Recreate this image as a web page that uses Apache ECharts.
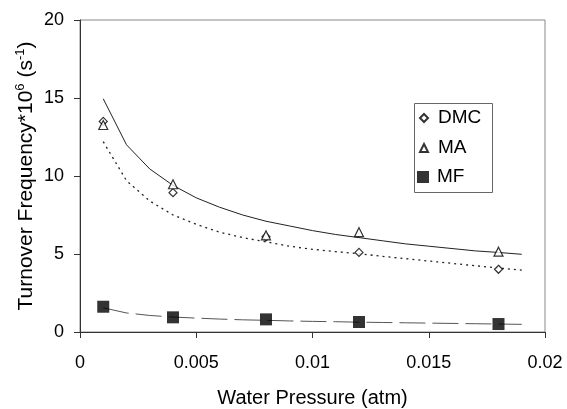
<!DOCTYPE html>
<html>
<head>
<meta charset="utf-8">
<script src="https://cdn.jsdelivr.net/npm/echarts@6/dist/echarts.min.js"></script>
<style>
html,body{margin:0;padding:0;background:#fff;}
#c{width:567px;height:409px;}
</style>
</head>
<body>
<div id="c"></div>
<script>
// Measured points
var pressures = [0.001, 0.004, 0.008, 0.012, 0.018];
var dmc = [13.5, 8.93, 6.1, 5.1, 4.02];
var ma = [13.27, 9.47, 6.2, 6.4, 5.15];
var mf = [1.62, 0.94, 0.81, 0.64, 0.51];

// Fitted trend curves
var fitX = [0.001, 0.002, 0.003, 0.004, 0.005, 0.006, 0.007, 0.008, 0.009, 0.010, 0.011, 0.012, 0.013, 0.014, 0.015, 0.016, 0.017, 0.018, 0.019];
var fitMA = [14.95, 12.0, 10.45, 9.4, 8.6, 8.0, 7.5, 7.1, 6.8, 6.5, 6.25, 6.05, 5.85, 5.65, 5.5, 5.35, 5.2, 5.1, 4.98];
var fitDMC = [12.2, 9.7, 8.4, 7.5, 6.9, 6.4, 6.05, 5.78, 5.5, 5.3, 5.15, 5.02, 4.85, 4.7, 4.55, 4.4, 4.25, 4.1, 3.97];
var fitMF = [1.55, 1.22, 1.06, 0.96, 0.89, 0.83, 0.78, 0.75, 0.71, 0.68, 0.66, 0.63, 0.61, 0.59, 0.57, 0.55, 0.53, 0.51, 0.49];

var xTicks = ['0', '0.005', '0.01', '0.015', '0.02'];

function pairs(xs, ys) { return xs.map(function (x, i) { return [x, ys[i]]; }); }

var FONT = 'Liberation Sans, Arial, sans-serif';
var chart = echarts.init(document.getElementById('c'), null, {renderer: 'canvas'});
chart.setOption({
  animation: false,
  backgroundColor: '#fff',
  textStyle: {fontFamily: FONT, color: '#000'},
  grid: {left: 80, right: 22, top: 20, bottom: 77, show: true, borderColor: '#888', borderWidth: 1,
    backgroundColor: 'transparent', containLabel: false, outerBoundsMode: 'none'},
  xAxis: {
    type: 'value', min: 0, max: 0.02, interval: 0.005,
    name: 'Water Pressure (atm)', nameLocation: 'middle', nameGap: 56, nameMoveOverlap: false,
    nameTextStyle: {fontSize: 20, color: '#000', fontFamily: FONT},
    axisLine: {show: true, lineStyle: {color: '#333', width: 1}},
    axisTick: {show: true, inside: false, length: 6, lineStyle: {color: '#333'}},
    axisLabel: {fontSize: 18, color: '#000', margin: 22, fontFamily: FONT,
      formatter: function (v) { var i = Math.round(v / 0.005); return xTicks[i]; }},
    splitLine: {show: false}
  },
  yAxis: {
    type: 'value', min: 0, max: 20, interval: 5,
    name: '{a|Turnover Frequency*10}{s|6}{a| (s}{s|-1}{a|)}',
    nameLocation: 'middle', nameGap: 42, nameRotate: 90, nameMoveOverlap: false,
    nameTextStyle: {
      fontFamily: FONT, color: '#000',
      rich: {
        a: {fontSize: 21, fontFamily: FONT, color: '#000', lineHeight: 24},
        s: {fontSize: 13, fontFamily: FONT, color: '#000', lineHeight: 13, verticalAlign: 'top'}
      }
    },
    axisLine: {show: true, lineStyle: {color: '#333', width: 1}},
    axisTick: {show: true, inside: false, length: 6, lineStyle: {color: '#333'}},
    axisLabel: {fontSize: 18, color: '#000', margin: 16, fontFamily: FONT},
    splitLine: {show: false}
  },
  legend: [
    {
      orient: 'vertical', left: 419, top: 108, padding: 0, itemGap: 10,
      itemWidth: 8, itemHeight: 8,
      textStyle: {fontSize: 19, fontFamily: FONT, color: '#000', lineHeight: 20, padding: [0, 0, 0, 5]},
      data: [{name: 'DMC', icon: 'diamond'}, {name: 'MA', icon: 'triangle'}]
    },
    {
      orient: 'vertical', left: 417, top: 167, padding: 0,
      itemWidth: 12, itemHeight: 12,
      textStyle: {fontSize: 19, fontFamily: FONT, color: '#000', lineHeight: 20, padding: [0, 0, 0, 3]},
      data: [{name: 'MF', icon: 'rect'}]
    }
  ],
  graphic: [{
    type: 'rect', left: 412, top: 101, z: 100, silent: true,
    shape: {width: 78, height: 89},
    style: {fill: 'none', stroke: '#666', lineWidth: 1}
  }],
  series: [
    {name: 'fitMA', type: 'line', data: pairs(fitX, fitMA), showSymbol: false, symbol: 'none',
      lineStyle: {color: '#222', width: 1, type: 'solid'}, z: 2},
    {name: 'fitDMC', type: 'line', data: pairs(fitX, fitDMC), showSymbol: false, symbol: 'none',
      lineStyle: {color: '#222', width: 1.3, type: [2, 4]}, z: 2},
    {name: 'fitMF', type: 'line', data: pairs(fitX, fitMF), showSymbol: false, symbol: 'none',
      lineStyle: {color: '#555', width: 1, type: [26, 7]}, z: 2},
    {name: 'DMC', type: 'scatter', data: pairs(pressures, dmc), symbol: 'diamond', symbolSize: 8,
      itemStyle: {color: '#fff', borderColor: '#000', borderWidth: 1.2}, z: 4},
    {name: 'MA', type: 'scatter', data: pairs(pressures, ma), symbol: 'triangle', symbolSize: 9,
      itemStyle: {color: '#fff', borderColor: '#000', borderWidth: 1.2}, z: 5},
    {name: 'MF', type: 'scatter', data: pairs(pressures, mf), symbol: 'rect', symbolSize: 12,
      itemStyle: {color: '#000', borderColor: '#000', borderWidth: 0}, z: 4}
  ]
});
</script>
</body>
</html>
